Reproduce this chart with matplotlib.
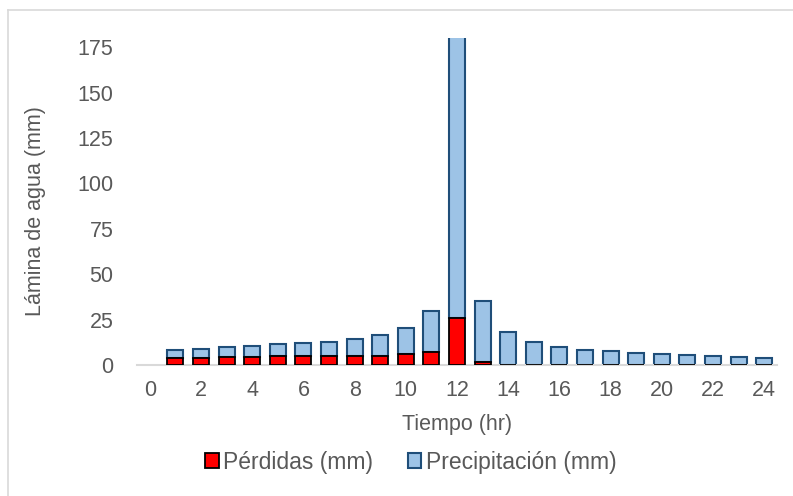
import matplotlib
matplotlib.use("Agg")
import matplotlib.pyplot as plt
from matplotlib.lines import Line2D
import numpy as np

# hours 1..24
horas = list(range(1, 25))

# losses (mm), lower red segment
perdidas = [3.7, 3.9, 4.3, 4.7, 4.9, 5.0, 5.0, 5.2, 5.2, 6.0, 7.4, 25.8,
            1.9, 0, 0, 0, 0, 0, 0, 0, 0, 0, 0, 0]
# precipitation (mm), upper blue segment stacked on the losses
precipitacion = [4.8, 5.2, 5.5, 6.0, 6.5, 7.0, 7.9, 9.0, 11.4, 14.3, 22.6, 174.2,
                 33.2, 18.1, 12.8, 10.2, 8.5, 7.6, 6.7, 6.1, 5.6, 4.9, 4.5, 4.1]

xticks = list(range(0, 25, 2))
yticks = list(range(0, 176, 25))

TEXT = "#595959"
FS = 15.5
plt.rcParams["font.family"] = ["Liberation Sans", "DejaVu Sans"]

fig = plt.figure(figsize=(7.93, 4.96), dpi=100)
ax = fig.add_axes([0.1728, 0.264, 0.807, 0.659])

ax.bar(horas, perdidas, width=0.62, color="#FF0000", edgecolor="black",
       linewidth=1.3, label="Pérdidas (mm)", zorder=3)
ax.bar(horas, precipitacion, width=0.62, bottom=perdidas, color="#9DC3E6",
       edgecolor="#1F4E79", linewidth=1.5, label="Precipitación (mm)", zorder=2)

ax.set_xlim(-0.5, 24.5)
ax.set_ylim(0, 180)
ax.set_xticks(xticks)
ax.set_yticks(yticks)
ax.tick_params(axis="both", length=0, labelsize=FS, colors=TEXT)
ax.tick_params(axis="x", pad=11)
ax.tick_params(axis="y", pad=17)

for side in ["top", "right", "left"]:
    ax.spines[side].set_visible(False)
ax.spines["bottom"].set_color("#D9D9D9")
ax.spines["bottom"].set_linewidth(1.5)

ax.set_xlabel("Tiempo (hr)", fontsize=FS, color=TEXT)
ax.xaxis.set_label_coords(0.5, -0.15)
ax.set_ylabel("Lámina de agua (mm)", fontsize=FS, color=TEXT)
ax.yaxis.set_label_coords(-0.143, 0.47)

leg = fig.legend(loc="center", bbox_to_anchor=(0.518, 0.068), ncol=2, frameon=False,
                 fontsize=16.5, handlelength=0.6, handleheight=0.6,
                 handletextpad=0.2, columnspacing=1.5)
for t in leg.get_texts():
    t.set_color(TEXT)

# light outer border (top and left only, chart was cropped)
fig.add_artist(Line2D([8 / 793, 1], [1 - 10 / 496, 1 - 10 / 496],
                      color="#D9D9D9", linewidth=1.2))
fig.add_artist(Line2D([8 / 793, 8 / 793], [0, 1 - 10 / 496],
                      color="#D9D9D9", linewidth=1.2))

fig.savefig("out.png", dpi=100)
